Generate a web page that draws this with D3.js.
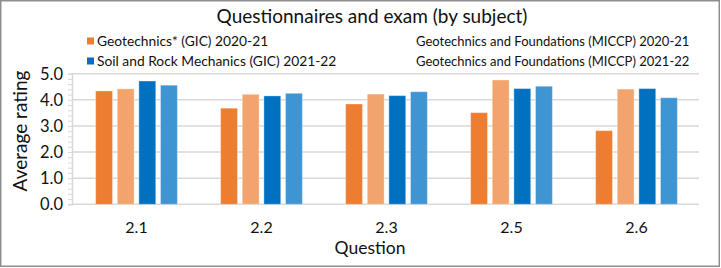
<!DOCTYPE html>
<html>
<head>
<meta charset="utf-8">
<script src="https://cdn.jsdelivr.net/npm/d3@7"></script>
<style>
  body { margin: 0; background: #fff; }
  svg text { font-family: Lato, "Open Sans", sans-serif; fill: #111; }
</style>
</head>
<body>
<svg id="chart" width="721" height="268"></svg>
<script>
// data
const questions = ["2.1", "2.2", "2.3", "2.5", "2.6"];
const seriesNames = [
    "Geotechnics* (GIC) 2020-21",
    "Geotechnics and Foundations (MICCP) 2020-21",
    "Soil and Rock Mechanics (GIC) 2021-22",
    "Geotechnics and Foundations (MICCP) 2021-22"
];
const gic2021 = [4.34, 3.68, 3.84, 3.51, 2.82];
const miccp2021 = [4.42, 4.21, 4.22, 4.76, 4.41];
const gic2122 = [4.72, 4.15, 4.16, 4.43, 4.43];
const miccp2122 = [4.56, 4.25, 4.31, 4.52, 4.08];
const yTicks = [0, 1, 2, 3, 4, 5];

const colors = ["#ED7D31", "#F3A46C", "#0070C0", "#3F94D2"];
const seriesValues = [gic2021, miccp2021, gic2122, miccp2122];

const svg = d3.select("#chart");

// outer frame
svg.append("rect")
    .attr("x", 0.75).attr("y", 0.75)
    .attr("width", 718.5).attr("height", 265.5)
    .attr("fill", "none")
    .attr("stroke", "#8f8f8f")
    .attr("stroke-width", 1.5);

// title
svg.append("text")
    .attr("x", 372).attr("y", 23)
    .attr("text-anchor", "middle")
    .style("font-size", "19px")
    .text("Questionnaires and exam (by subject)");

// scales
const xScale = d3.scaleBand()
    .domain(questions)
    .range([74, 699]);
const yScale = d3.scaleLinear()
    .domain([0, 5])
    .range([204.3, 73.7]);

// gridlines
svg.append("g")
    .selectAll("line")
    .data(yTicks)
    .join("line")
    .attr("x1", 72).attr("x2", 699)
    .attr("y1", d => yScale(d)).attr("y2", d => yScale(d))
    .attr("stroke", "#d9d9d9")
    .attr("stroke-width", 1.5);

// y axis with minor ticks
svg.append("g")
    .attr("transform", "translate(72,0)")
    .call(d3.axisLeft(yScale).tickValues(d3.range(0, 5.01, 0.2)).tickSize(4).tickFormat(""))
    .call(g => g.select(".domain").attr("stroke", "#d9d9d9").attr("stroke-width", 1.5))
    .call(g => g.selectAll(".tick line").attr("stroke", "#d9d9d9"));

svg.append("g")
    .selectAll("text")
    .data(yTicks)
    .join("text")
    .attr("x", 63)
    .attr("y", d => yScale(d) + 6)
    .attr("text-anchor", "end")
    .style("font-size", "16.5px")
    .text(d => d3.format(".1f")(d));

// bars
const inner = d3.scaleBand()
    .domain(d3.range(seriesNames.length))
    .range([0, xScale.bandwidth()])
    .paddingInner(0.22)
    .paddingOuter(1.0);

seriesValues.forEach((vals, s) => {
    svg.append("g")
        .selectAll("rect")
        .data(vals)
        .join("rect")
        .attr("x", (d, i) => xScale(questions[i]) + inner(s))
        .attr("y", d => yScale(d))
        .attr("width", inner.bandwidth())
        .attr("height", d => yScale(0) - yScale(d))
        .attr("fill", colors[s])
        .attr("stroke", "#ffffff")
        .attr("stroke-opacity", 0.35)
        .attr("stroke-width", 1);
});

// x labels
svg.append("g")
    .selectAll("text")
    .data(questions)
    .join("text")
    .attr("x", d => xScale(d) + xScale.bandwidth() / 2)
    .attr("y", 233)
    .attr("text-anchor", "middle")
    .style("font-size", "16px")
    .text(d => d);

svg.append("text")
    .attr("x", 370).attr("y", 254)
    .attr("text-anchor", "middle")
    .style("font-size", "17.5px")
    .text("Question");

svg.append("text")
    .attr("transform", "translate(27,131) rotate(-90)")
    .attr("text-anchor", "middle")
    .style("font-size", "19px")
    .text("Average rating");

// legend
const legendPos = [
    { x: 87, y: 41, swatch: true, size: 13.8 },
    { x: 416, y: 41, swatch: false, size: 13 },
    { x: 87, y: 61, swatch: true, size: 13.8 },
    { x: 416, y: 61, swatch: false, size: 13 }
];
seriesNames.forEach((name, s) => {
    const p = legendPos[s];
    if (p.swatch) {
        svg.append("rect")
            .attr("x", p.x).attr("y", p.y - 3.5)
            .attr("width", 7).attr("height", 7)
            .attr("fill", colors[s]);
    }
    svg.append("text")
        .attr("x", p.swatch ? p.x + 10 : p.x)
        .attr("y", p.y + 5)
        .style("font-size", p.size + "px")
        .text(name);
});
</script>
</body>
</html>
